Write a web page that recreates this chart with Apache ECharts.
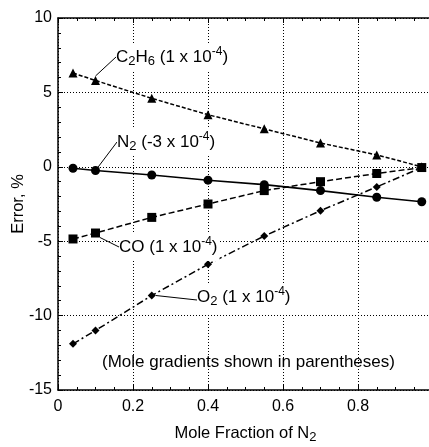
<!DOCTYPE html>
<html>
<head>
<meta charset="utf-8">
<script src="https://cdn.jsdelivr.net/npm/echarts@6/dist/echarts.min.js"></script>
<style>
  html, body { margin: 0; padding: 0; background: #fff; }
  #chart { width: 429px; height: 447px; }
</style>
</head>
<body>
<div id="chart"></div>
<script>
// mole fraction of N2 (x positions of the points)
const xFrac = [0.04, 0.1, 0.25, 0.4, 0.55, 0.7, 0.85, 0.97];
// error, % for each gas
const c2h6Err = [6.3, 5.8, 4.6, 3.5, 2.55, 1.6, 0.8, 0.0];
const n2Err = [-0.1, -0.25, -0.55, -0.9, -1.2, -1.6, -2.05, -2.35];
const coErr = [-4.85, -4.45, -3.4, -2.5, -1.6, -1.0, -0.45, -0.05];
const o2Err = [-11.9, -11.0, -8.65, -6.55, -4.65, -2.95, -1.35, -0.05];
// tick labels
const xTicks = ['0', '0.2', '0.4', '0.6', '0.8'];
const yTicks = [-15, -10, -5, 0, 5, 10];

const FONT = '"Liberation Sans", Arial, Helvetica, sans-serif';
const FS = 16;   // ticks
const AFS = 17;  // annotations
const rich = {
    sub: { fontSize: 13, fontFamily: FONT, color: '#000', verticalAlign: 'bottom', lineHeight: 14 },
    sup: { fontSize: 12, fontFamily: FONT, color: '#000', verticalAlign: 'top', lineHeight: 12 }
};

// build a series; anchor = index of point that carries the annotation
function mkSeries(name, vals, symbol, size, dash, width, anchor, text, lx, ly, pad) {
    let data = vals.map((v, i) => {
        let item = { value: [xFrac[i], v] };
        if (i === anchor) {
            item.label = {
                show: true,
                formatter: text,
                fontSize: AFS,
                fontFamily: FONT,
                color: '#000',
                lineHeight: 22,
                backgroundColor: '#fff',
                padding: pad,
                rich: rich
            };
            item.labelLine = { show: true, lineStyle: { color: '#000', width: 1 } };
        }
        return item;
    });
    return {
        name: name,
        type: 'line',
        data: data,
        symbol: symbol,
        symbolSize: size,
        itemStyle: { color: '#000' },
        lineStyle: { color: '#000', width: width, type: dash },
        label: { show: false },
        labelLine: { show: false, smooth: false, length2: 0 },
        labelLayout: function (p) {
            if (p.dataIndex !== anchor) return {};
            return { x: lx, y: ly, align: 'left', verticalAlign: 'middle' };
        },
        emphasis: { disabled: true },
        animation: false
    };
}

let myChart = echarts.init(document.getElementById('chart'));

let series = [
    mkSeries('C2H6', c2h6Err, 'triangle', 9, [4, 2], 1.5, 1,
        'C{sub|2}H{sub|6} (1 x 10{sup|-4})', 116, 57, [3, 2, 3, 0]),
    mkSeries('N2', n2Err, 'circle', 9, 'solid', 1.6, 1,
        'N{sub|2} (-3 x 10{sup|-4})', 117, 142, [3, 2, 3, 0]),
    mkSeries('CO', coErr, 'rect', 9, [6, 3], 1.5, 1,
        'CO (1 x 10{sup|-4})', 119, 247, [3, 2, 3, 0]),
    mkSeries('O2', o2Err, 'diamond', 8, [7, 3, 2, 3], 1.5, 2,
        'O{sub|2} (1 x 10{sup|-4})', 197, 300, [1, 2, 7, 0])
];

let axisCommon = {
    axisLine: { show: true, onZero: false, lineStyle: { color: '#000', width: 1.5 } },
    axisTick: { show: true, inside: true, length: 5, lineStyle: { color: '#000', width: 1 } },
    minorTick: { show: true, length: 3, lineStyle: { color: '#000', width: 1 } },
    splitLine: { show: false }
};

let options = {
    backgroundColor: '#fff',
    animation: false,
    grid: { left: 58, right: -4, top: 18, bottom: 57, containLabel: false, outerBoundsMode: 'none' },
    xAxis: [
        Object.assign({}, axisCommon, {
            type: 'value', min: 0, max: 1, interval: 0.2,
            minorTick: Object.assign({}, axisCommon.minorTick, { splitNumber: 4 }),
            splitLine: { show: true, lineStyle: { color: '#000', width: 1, type: [1, 2] } },
            axisLabel: {
                color: '#000', fontSize: FS, fontFamily: FONT, margin: 9,
                showMaxLabel: false,
                formatter: function (v) {
                    let k = Math.round(v / 0.2);
                    return k < xTicks.length ? xTicks[k] : '';
                }
            },
            name: 'Mole Fraction of N{sub|2}',
            nameLocation: 'middle',
            nameGap: 32,
            nameMoveOverlap: false,
            nameTextStyle: { color: '#000', fontSize: 16.5, fontFamily: FONT, lineHeight: 22, rich: rich }
        }),
        Object.assign({}, axisCommon, {
            type: 'value', min: 0, max: 1, interval: 0.2, position: 'top',
            minorTick: Object.assign({}, axisCommon.minorTick, { splitNumber: 4 }),
            axisLabel: { show: false }
        })
    ],
    yAxis: Object.assign({}, axisCommon, {
        type: 'value', min: yTicks[0], max: yTicks[yTicks.length - 1], interval: 5,
        minorTick: Object.assign({}, axisCommon.minorTick, { splitNumber: 5 }),
        splitLine: { show: true, lineStyle: { color: '#000', width: 1, type: [1, 2] } },
        axisLabel: { color: '#000', fontSize: FS, fontFamily: FONT, margin: 6 },
        name: 'Error, %',
        nameLocation: 'middle',
        nameGap: 31,
        nameMoveOverlap: false,
        nameTextStyle: { color: '#000', fontSize: 16.5, fontFamily: FONT }
    }),
    graphic: [{
        type: 'text',
        left: 102,
        top: 354,
        style: { text: '(Mole gradients shown in parentheses)', fontSize: AFS, fontFamily: FONT, fill: '#000' }
    }],
    series: series
};

myChart.setOption(options);
</script>
</body>
</html>
